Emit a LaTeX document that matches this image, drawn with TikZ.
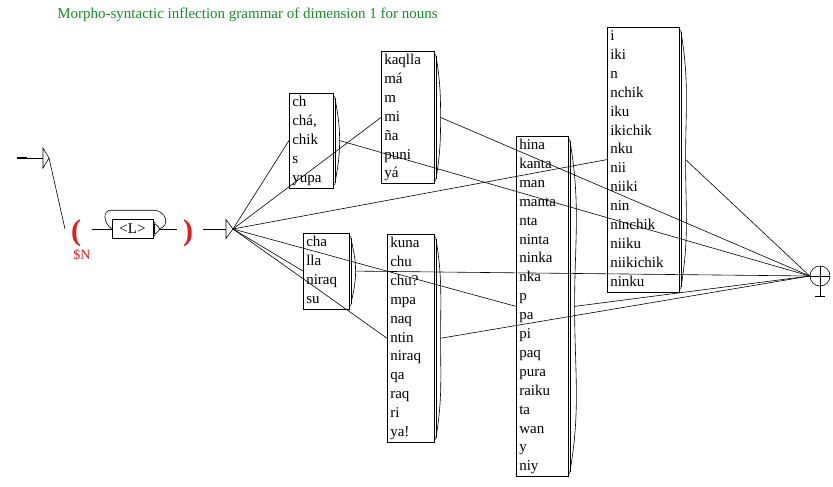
\documentclass[tikz,border=0pt]{standalone}
\usepackage{fontspec}
\setmainfont{Liberation Serif}
\definecolor{grgreen}{RGB}{25,140,40}
\definecolor{grred}{RGB}{225,30,30}
\newcommand{\grfont}{\fontsize{15}{18.9}\selectfont}
\begin{document}
\begin{tikzpicture}[x=1pt, y=-1pt, line width=0.6pt,
  grbox/.style = {draw, anchor=north west, align=left, inner xsep=3pt, inner ysep=0pt, font=\grfont,
    execute at begin node=\strut, execute at end node=\strut},
  paren/.style = {text=grred, font=\fontsize{30}{30}\selectfont\bfseries, inner sep=0pt, anchor=base},
  final/.style = {draw, circle, minimum size=20pt, inner sep=0pt}]
  \useasboundingbox (0,0) rectangle (833,487);
  \node[anchor=base west, text=grgreen, font=\fontsize{15}{18}\selectfont, inner sep=0pt] (title) at (57,19)
    {Morpho-syntactic inflection grammar of dimension 1 for nouns};
  %
  \node[grbox, text width=38pt] (A) at (289,93) {ch\\chá,\\chik\\s\\yupa};
  \node[grbox, text width=47pt] (B) at (381,51) {kaqlla\\má\\m\\mi\\ña\\puni\\yá};
  \node[grbox, text width=40pt] (C) at (303,233) {cha\\lla\\niraq\\su};
  \node[grbox, text width=41pt] (D) at (387,234) {kuna\\chu\\chu?\\mpa\\naq\\ntin\\niraq\\qa\\raq\\ri\\ya!};
  \node[grbox, text width=46pt] (E) at (516,136) {hina\\kanta\\man\\manta\\nta\\ninta\\ninka\\nka\\p\\pa\\pi\\paq\\pura\\raiku\\ta\\wan\\y\\niy};
  \node[grbox, text width=66pt] (F) at (607,27) {i\\iki\\n\\nchik\\iku\\ikichik\\nku\\nii\\niiki\\nin\\ninchik\\niiku\\niikichik\\ninku};
  \node[draw, minimum width=41pt, minimum height=19pt, inner sep=0pt, font=\grfont] (L) at (132.5,229) {<L>};
  \node[final] (fin) at (820,276) {};
  %
  \node[paren, label={[text=grred, font=\fontsize{14}{14}\selectfont, inner sep=0pt,
    label distance=2pt, xshift=6pt]below:\$N}] (vo) at (76,240) {(};
  \node[paren] (vc) at (188,240) {)};
  %
  \coordinate (init) at (17,158);
  \coordinate (start) at (49,158);
  \coordinate (vo-in) at (65,229);
  \coordinate (vo-out) at (92,229);
  \coordinate (vc-in) at (177,229);
  \coordinate (vc-out) at (203,229);
  \coordinate (eps-in) at (226,229);
  \coordinate (eps) at (233,229);
  %
  \foreach \b in {A,B,C,D,E,F,L} {
    \coordinate (\b-out) at ([xshift=6pt]\b.east);
    \draw[line width=1pt] ([xshift=1.5pt,yshift=-5pt]\b.north east) -- ([xshift=1.5pt,yshift=5pt]\b.south east);
    \draw ([xshift=1pt,yshift=-3pt]\b.north east) to[out=-80,in=90] (\b-out)
      to[out=-90,in=80] ([xshift=1pt,yshift=3pt]\b.south east);
  }
  %
  \draw (init) -- ([xshift=-6pt]start);
  \draw[line width=1.8pt] (init) -- ++(10,0);
  \draw ([xshift=-6pt,yshift=10pt]start) -- ([xshift=-6pt,yshift=-10pt]start) -- (start) -- cycle;
  \draw (start) -- (vo-in);
  \draw (vo-out) -- (L.west);
  \draw (L-out) .. controls +(12,-4) and +(12,0) .. ([yshift=9pt]L.north east)
    -- ([yshift=9pt]L.north west) .. controls +(-10,0) and +(-8,-6) .. (L.west);
  \draw (L-out) -- (vc-in);
  \draw (vc-out) -- (eps-in);
  \draw ([yshift=9.5pt]eps-in) -- ([yshift=-9.5pt]eps-in) -- (eps) -- cycle;
  \foreach \b in {A,...,F} \draw (eps) -- (\b.west);
  \foreach \b in {A,...,F} \draw (\b-out) -- (fin.west);
  %
  \draw (fin.west) -- (fin.east);
  \draw (fin.north) -- ([yshift=-10pt]fin.south) coordinate (stem);
  \draw ([xshift=-5pt]stem) -- ([xshift=5pt]stem);
\end{tikzpicture}
\end{document}
